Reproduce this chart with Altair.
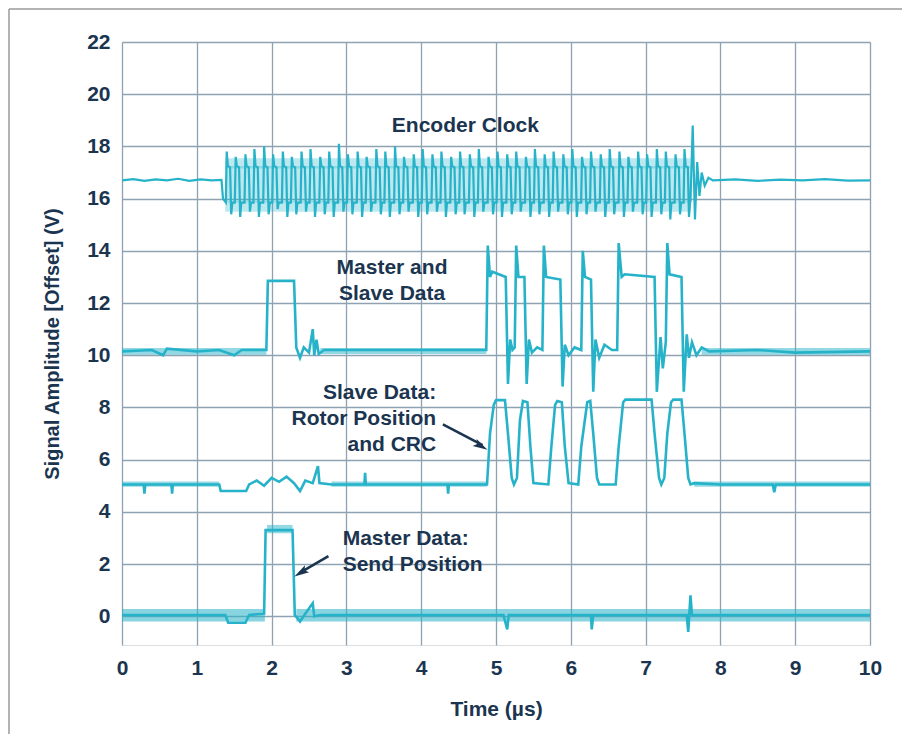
import altair as alt
import pandas as pd

# ---------------- data ----------------
# Encoder clock (offset ~16.7 V)
clk_pre_t = [0.0, 0.15, 0.3, 0.45, 0.6, 0.75, 0.9, 1.05, 1.2, 1.33, 1.35]
clk_pre_v = [16.7, 16.75, 16.68, 16.74, 16.7, 16.76, 16.68, 16.74, 16.7, 16.72, 16.0]
clk_peak_t = [1.40, 1.52, 1.65, 1.77, 1.90, 2.02, 2.15, 2.27, 2.40, 2.52,
              2.65, 2.77, 2.90, 3.02, 3.15, 3.27, 3.40, 3.52, 3.65, 3.77,
              3.90, 4.02, 4.15, 4.27, 4.40, 4.52, 4.65, 4.77, 4.90, 5.02,
              5.15, 5.27, 5.40, 5.52, 5.65, 5.77, 5.90, 6.02, 6.15, 6.27,
              6.40, 6.52, 6.65, 6.77, 6.90, 7.02, 7.15, 7.27, 7.40, 7.52]
clk_peak_v = [17.8, 17.6, 17.7, 17.9, 18.0, 17.7, 17.8, 17.6, 17.8, 17.9,
              17.6, 17.8, 18.1, 17.7, 17.8, 17.6, 17.9, 17.8, 18.0, 17.6,
              17.7, 17.9, 17.7, 17.8, 17.6, 17.8, 17.7, 17.9, 17.6, 17.8,
              17.7, 17.8, 17.6, 17.9, 17.7, 17.8, 17.7, 17.9, 17.6, 17.8,
              17.7, 17.9, 17.8, 17.6, 17.8, 17.7, 17.9, 17.8, 17.7, 17.9]
clk_trough_v = [15.4, 15.3, 15.5, 15.3, 15.4, 15.6, 15.3, 15.4, 15.5, 15.3,
                15.4, 15.3, 15.5, 15.4, 15.3, 15.5, 15.4, 15.3, 15.4, 15.5,
                15.3, 15.4, 15.5, 15.3, 15.4, 15.4, 15.3, 15.5, 15.4, 15.3,
                15.4, 15.5, 15.3, 15.4, 15.3, 15.5, 15.4, 15.3, 15.4, 15.5,
                15.3, 15.4, 15.3, 15.5, 15.4, 15.3, 15.4, 15.2, 15.4, 15.3]
clk_hi_level = 17.25
clk_lo_level = 15.85
clk_post_t = [7.60, 7.63, 7.66, 7.69, 7.72, 7.75, 7.79, 7.84, 7.9, 8.2, 8.5, 8.8, 9.1, 9.4, 9.7, 10.0]
clk_post_v = [15.9, 18.8, 15.2, 17.4, 16.1, 17.0, 16.5, 16.8, 16.7, 16.74, 16.68, 16.73, 16.7, 16.75, 16.69, 16.7]

# Master and slave data (offset ~10.15 V)
ms_t = [0.0, 0.4, 0.55, 0.6, 1.0, 1.3, 1.5, 1.6, 1.93, 1.95, 2.3, 2.33, 2.38, 2.43, 2.5,
        2.55, 2.57, 2.6, 2.63, 2.7, 4.87, 4.89, 4.92, 4.95, 5.13, 5.16, 5.19, 5.22, 5.25,
        5.27, 5.30, 5.38, 5.41, 5.44, 5.48, 5.55, 5.62, 5.64, 5.67, 5.86, 5.89, 5.92, 5.97,
        6.05, 6.14, 6.16, 6.19, 6.27, 6.30, 6.33, 6.38, 6.45, 6.55, 6.62, 6.64, 6.68, 6.72,
        7.12, 7.15, 7.20, 7.23, 7.27, 7.29, 7.32, 7.48, 7.51, 7.55, 7.58, 7.62, 7.68, 7.75,
        7.85, 8.5, 9.0, 10.0]
ms_v = [10.15, 10.2, 10.0, 10.25, 10.15, 10.2, 10.0, 10.2, 10.2, 12.85, 12.85, 10.3, 9.9, 10.3, 10.1,
        11.0, 10.0, 10.6, 10.05, 10.2, 10.2, 14.2, 13.0, 13.2, 13.0, 8.9, 10.6, 10.2, 10.3,
        14.2, 13.0, 13.0, 8.9, 10.6, 10.1, 10.3, 10.2, 14.2, 13.0, 12.9, 8.8, 10.4, 10.0,
        10.3, 10.2, 14.0, 13.0, 12.9, 8.6, 10.6, 9.9, 10.4, 10.2, 10.2, 14.3, 13.0, 13.1,
        13.0, 8.6, 10.7, 9.5, 10.5, 14.3, 13.1, 13.0, 8.6, 10.8, 9.9, 10.5, 10.0, 10.3,
        10.15, 10.2, 10.1, 10.15]

# Slave data: rotor position and CRC (offset ~5.05 V)
sd_t = [0.0, 0.29, 0.3, 0.31, 0.66, 0.67, 0.68, 1.3, 1.32, 1.66, 1.7, 1.8, 1.9, 2.0, 2.1, 2.2,
        2.3, 2.38, 2.45, 2.55, 2.62, 2.64, 2.8, 3.24, 3.25, 3.26, 4.35, 4.36, 4.37, 4.88,
        4.92, 4.97, 5.0, 5.12, 5.16, 5.21, 5.24, 5.28, 5.32, 5.36, 5.42, 5.46, 5.50, 5.70,
        5.74, 5.79, 5.82, 5.88, 5.92, 5.97, 6.10, 6.14, 6.22, 6.26, 6.30, 6.35, 6.38, 6.60,
        6.64, 6.70, 6.73, 7.08, 7.12, 7.18, 7.21, 7.25, 7.29, 7.34, 7.37, 7.48, 7.52, 7.57,
        7.60, 7.65, 8.0, 8.7, 8.72, 8.74, 10.0]
sd_v = [5.05, 5.05, 4.7, 5.05, 5.05, 4.7, 5.05, 5.05, 4.8, 4.8, 5.05, 5.2, 5.0, 5.3, 5.15, 5.35,
        5.1, 4.8, 5.2, 5.1, 5.75, 5.1, 5.05, 5.05, 5.5, 5.05, 5.05, 4.7, 5.05, 5.05,
        7.0, 8.1, 8.28, 8.28, 7.0, 5.3, 5.05, 5.3, 7.5, 8.25, 8.2, 6.5, 5.1, 5.05,
        6.5, 8.1, 8.25, 8.2, 6.5, 5.1, 5.05, 6.5, 8.2, 8.25, 7.0, 5.3, 5.05, 5.05,
        6.5, 8.2, 8.3, 8.3, 7.0, 5.3, 5.05, 5.3, 7.0, 8.2, 8.3, 8.3, 7.0, 5.3,
        5.05, 5.1, 5.05, 5.05, 4.75, 5.05, 5.05]

# Master data: send position (offset ~0 V)
md_t = [0.0, 1.38, 1.42, 1.65, 1.7, 1.9, 1.92, 2.28, 2.31, 2.38, 2.45, 2.55, 2.57, 2.65,
        5.1, 5.15, 5.17, 6.27, 6.28, 6.3, 7.55, 7.57, 7.6, 7.62, 10.0]
md_v = [0.05, 0.05, -0.25, -0.25, 0.05, 0.1, 3.3, 3.3, 0.05, -0.2, 0.1, 0.5, 0.0, 0.05,
        0.05, -0.5, 0.05, 0.05, -0.5, 0.05, 0.05, -0.6, 0.8, 0.05, 0.05]

# Noise envelopes: (segment, start, end, low, high)
band_seg = ["ms1", "ms2", "ms3", "sd1", "sd2", "sd3", "md1", "md2", "md3", "clk", "clkt", "clkb"]
band_t0 = [0.0, 2.65, 7.75, 0.0, 2.8, 7.65, 0.0, 1.94, 2.33, 1.38, 1.38, 1.38]
band_t1 = [1.93, 4.87, 10.0, 1.3, 4.88, 10.0, 1.91, 2.28, 10.0, 7.60, 7.60, 7.60]
band_lo = [10.02, 10.05, 10.02, 4.96, 4.96, 4.96, -0.2, 3.18, -0.2, 15.85, 17.15, 15.5]
band_hi = [10.28, 10.28, 10.28, 5.16, 5.16, 5.16, 0.28, 3.5, 0.28, 17.25, 17.55, 15.9]
band_op = [0.5, 0.5, 0.5, 0.5, 0.5, 0.5, 0.55, 0.5, 0.55, 0.3, 0.3, 0.3]

x_ticks = [0, 1, 2, 3, 4, 5, 6, 7, 8, 9, 10]
y_ticks = [0, 2, 4, 6, 8, 10, 12, 14, 16, 18, 20, 22]

# ---------------- build tables ----------------
rows = []
def add(trace, ts, vs):
    for t, v in zip(ts, vs):
        rows.append({"trace": trace, "t": t, "v": v, "i": len(rows)})

add("clock", clk_pre_t, clk_pre_v)
clk_t, clk_v = [], []
for tp, pk, tr in zip(clk_peak_t, clk_peak_v, clk_trough_v):
    clk_t += [tp - 0.012, tp, tp + 0.015, tp + 0.045, tp + 0.06, tp + 0.075]
    clk_v += [clk_lo_level, pk, clk_hi_level, clk_hi_level - 0.05, tr, clk_lo_level]
add("clock", clk_t, clk_v)
add("clock", clk_post_t, clk_post_v)
traces_clk = pd.DataFrame([r for r in rows if r["trace"] == "clock"])
add("ms", ms_t, ms_v)
add("sd", sd_t, sd_v)
add("md", md_t, md_v)
traces = pd.DataFrame([r for r in rows if r["trace"] != "clock"])

brows = []
for s, a, b, lo, hi, op in zip(band_seg, band_t0, band_t1, band_lo, band_hi, band_op):
    brows.append({"seg": s, "t": a, "lo": lo, "hi": hi, "op": op})
    brows.append({"seg": s, "t": b, "lo": lo, "hi": hi, "op": op})
bands = pd.DataFrame(brows)

TRACE = "#26b3c9"
NAVY = "#1b3550"
FONT = "Liberation Sans, Arial, sans-serif"

xs = alt.Scale(domain=[0, 10], nice=False, zero=False)
ys = alt.Scale(domain=[-1.1, 22], nice=False, zero=False)

xax = alt.Axis(values=x_ticks, format="d", grid=True, ticks=False, domain=False, labelFontSize=21,
               labelFontWeight="bold", labelColor=NAVY, labelFont=FONT, labelPadding=12,
               title="Time (µs)", titleFontSize=21, titleFontWeight="bold", titleColor=NAVY,
               titleFont=FONT, titlePadding=20, gridColor="#8fa2b2", gridWidth=1.3,
               labelFlush=False)
yax = alt.Axis(values=y_ticks, format="d", grid=True, ticks=False, domain=False, labelFontSize=21,
               labelFontWeight="bold", labelColor=NAVY, labelFont=FONT, labelPadding=12,
               title="Signal Amplitude [Offset] (V)", titleFontSize=20, titleFontWeight="bold",
               titleColor=NAVY, titleFont=FONT, titlePadding=24, gridColor="#8fa2b2",
               gridWidth=1.3, labelFlush=False)

band_layer = alt.Chart(bands).mark_area(color=TRACE).encode(
    x=alt.X("t:Q", scale=xs, axis=xax),
    y=alt.Y("lo:Q", scale=ys, axis=yax),
    y2="hi:Q",
    detail="seg:N",
    opacity=alt.Opacity("op:Q", scale=None),
)

clock_layer = alt.Chart(traces_clk).mark_line(color=TRACE, strokeWidth=2.2).encode(
    x=alt.X("t:Q", scale=xs),
    y=alt.Y("v:Q", scale=ys),
    order="i:Q",
)

line_layer = alt.Chart(traces).mark_line(color=TRACE, strokeWidth=2.6).encode(
    x=alt.X("t:Q", scale=xs),
    y=alt.Y("v:Q", scale=ys),
    detail="trace:N",
    order="i:Q",
)

# annotations
lab_c = pd.DataFrame({"t": [4.59, 3.61, 3.61], "v": [18.8, 13.35, 12.36],
                      "txt": ["Encoder Clock", "Master and", "Slave Data"]})
lab_r = pd.DataFrame({"t": [4.20, 4.20, 4.20], "v": [8.55, 7.55, 6.55],
                      "txt": ["Slave Data:", "Rotor Position", "and CRC"]})
lab_l = pd.DataFrame({"t": [2.95, 2.95], "v": [2.95, 1.98],
                      "txt": ["Master Data:", "Send Position"]})

def text_layer(df, align):
    return alt.Chart(df).mark_text(align=align, baseline="middle", fontSize=21,
                                   fontWeight="bold", font=FONT, color=NAVY).encode(
        x=alt.X("t:Q", scale=xs), y=alt.Y("v:Q", scale=ys), text="txt:N")

arrows = pd.DataFrame({"t": [4.29, 2.76], "v": [7.35, 2.30],
                       "t2": [4.82, 2.37], "v2": [6.56, 1.65],
                       "ht": [4.80, 2.39], "hv": [6.52, 1.67], "ang": [119.6, 238.8]})
arrow_lines = alt.Chart(arrows).mark_rule(color=NAVY, strokeWidth=2.6).encode(
    x=alt.X("t:Q", scale=xs), y=alt.Y("v:Q", scale=ys), x2="t2:Q", y2="v2:Q")
arrow_heads = alt.Chart(arrows).mark_point(
    shape="M0,-1L0.55,1L0,0.6L-0.55,1Z", filled=True, color=NAVY, opacity=1, size=220
).encode(x=alt.X("ht:Q", scale=xs), y=alt.Y("hv:Q", scale=ys), angle=alt.Angle("ang:Q", scale=None))

frame = alt.Chart(pd.DataFrame({"k": [0]})).mark_rule(color="#9a9a9a", strokeWidth=1.5).encode(
    x=alt.value(-113), x2=alt.value(800), y=alt.value(-33), y2=alt.value(-33))
frame2 = alt.Chart(pd.DataFrame({"k": [0]})).mark_rule(color="#9a9a9a", strokeWidth=1.5).encode(
    x=alt.value(-113), x2=alt.value(-113), y=alt.value(-33), y2=alt.value(700))

chart = alt.layer(
    band_layer, clock_layer, line_layer,
    text_layer(lab_c, "center"), text_layer(lab_r, "right"), text_layer(lab_l, "left"),
    arrow_lines, arrow_heads, frame, frame2,
).properties(
    width=748, height=603,
    autosize=alt.AutoSizeParams(type="none"),
    padding={"left": 114, "top": 34, "right": 32, "bottom": 89},
).configure_view(stroke=NAVY, strokeWidth=2.6).configure(background="white")

chart.save("out.html", embed_options={"renderer": "svg", "actions": False})
